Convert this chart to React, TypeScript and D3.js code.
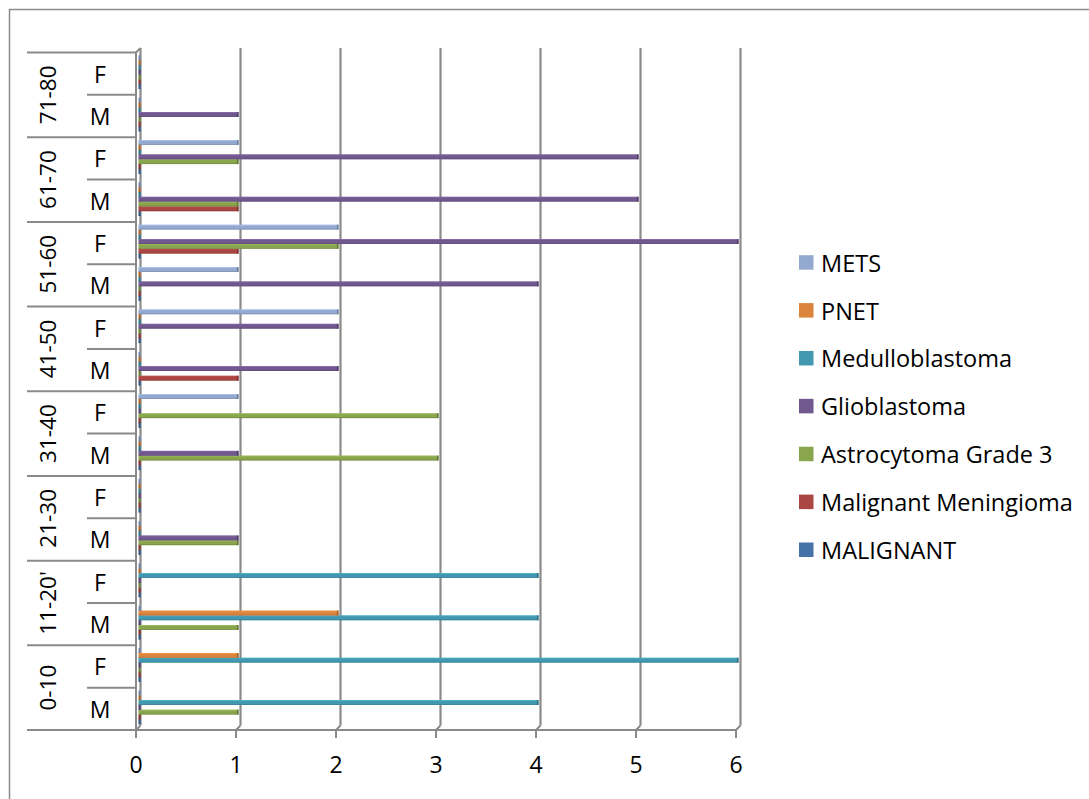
import React from "react";
import * as d3 from "d3";

const ageGroups = ["0-10", "11-20'", "21-30", "31-40", "41-50", "51-60", "61-70", "71-80"];
const sexes = ["M", "F"];
const categories = ageGroups.flatMap((a) => sexes.map((s) => `${a}|${s}`));

const seriesNames = [
  "MALIGNANT",
  "Malignant Meningioma",
  "Astrocytoma Grade 3",
  "Glioblastoma",
  "Medulloblastoma",
  "PNET",
  "METS",
];
const seriesColors = ["#4572A7", "#AA4643", "#89A54E", "#71588F", "#4198AF", "#DB843D", "#93A9CF"];

// values in category order: 0-10 M, 0-10 F, 11-20' M, 11-20' F, ... 71-80 F
const malignant = [0, 0, 0, 0, 0, 0, 0, 0, 0, 0, 0, 0, 0, 0, 0, 0];
const meningioma = [0, 0, 0, 0, 0, 0, 0, 0, 1, 0, 0, 1, 1, 0, 0, 0];
const astrocytoma = [1, 0, 1, 0, 1, 0, 3, 3, 0, 0, 0, 2, 1, 1, 0, 0];
const glioblastoma = [0, 0, 0, 0, 1, 0, 1, 0, 2, 2, 4, 6, 5, 5, 1, 0];
const medulloblastoma = [4, 6, 4, 4, 0, 0, 0, 0, 0, 0, 0, 0, 0, 0, 0, 0];
const pnet = [0, 1, 2, 0, 0, 0, 0, 0, 0, 0, 0, 0, 0, 0, 0, 0];
const mets = [0, 0, 0, 0, 0, 0, 0, 1, 0, 2, 1, 2, 0, 1, 0, 0];
const seriesValues = [malignant, meningioma, astrocytoma, glioblastoma, medulloblastoma, pnet, mets];

const xTicks = [0, 1, 2, 3, 4, 5, 6];

const FONT = "'Open Sans', sans-serif";
const GRID = "#8a8a8a";

export default function App() {
  const W = 1089;
  const H = 799;
  const plotTop = 52.5;
  const plotBottom = 730;
  const depth = 4.5;

  // front (floor) x scale and back-wall x scale for the 3D look
  const xFront = d3.scaleLinear().domain([0, 6]).range([136, 736]);
  const xBack = d3.scaleLinear().domain([0, 6]).range([140.5, 740.5]);
  const xBar = d3.scaleLinear().domain([0, 6]).range([138.5, 738.5]);

  const yCat = d3.scaleBand<string>().domain(categories).range([plotBottom, plotTop]).paddingInner(0).paddingOuter(0);
  const bw = yCat.bandwidth();
  const yGroupInner = d3
    .scaleBand<string>()
    .domain(seriesNames.slice().reverse())
    .range([bw * 0.5 - 3.5 * 4.8 - 1.5, bw * 0.5 + 3.5 * 4.8 - 1.5]);
  const barH = 4.8;

  const groupBoundaries = d3.range(ageGroups.length + 1).map((i) => plotBottom - i * 2 * bw);
  const subBoundaries = ageGroups.map((_, i) => plotBottom - (i * 2 + 1) * bw);

  const legendY = d3.scalePoint<string>().domain(seriesNames.slice().reverse()).range([262.7, 550]);

  return (
    <svg
      width={W}
      height={H}
      style={{ position: "absolute", left: 0, top: 0, background: "#fff" }}
      fontFamily={FONT}
    >
      <rect x={9.5} y={9.5} width={W + 20} height={H + 20} fill="#fff" stroke="#8c8c8c" strokeWidth={1.5} />

      {/* gridlines on back wall */}
      {xTicks.map((t) => (
        <g key={"g" + t}>
          <line x1={xBack(t)} x2={xBack(t)} y1={plotTop - depth} y2={plotBottom - depth} stroke={GRID} strokeWidth={2.2} />
          <line
            x1={xBack(t)}
            x2={xFront(t)}
            y1={plotBottom - depth}
            y2={plotBottom}
            stroke={GRID}
            strokeWidth={2}
          />
          <line x1={xFront(t)} x2={xFront(t)} y1={plotBottom} y2={plotBottom + 8} stroke={GRID} strokeWidth={2} />
          <text
            x={xFront(t)}
            y={plotBottom + 43}
            textAnchor="middle"
            fontSize={23}
            fill="#000"
          >
            {t}
          </text>
        </g>
      ))}
      {/* floor line */}
      <line x1={xFront(0)} x2={xFront(6)} y1={plotBottom} y2={plotBottom} stroke={GRID} strokeWidth={2} />

      {/* category axis */}
      <line x1={136} x2={136} y1={plotTop} y2={plotBottom} stroke={GRID} strokeWidth={2} />
      <line x1={136} x2={xBack(0)} y1={plotTop} y2={plotTop - depth} stroke={GRID} strokeWidth={2} />
      {groupBoundaries.map((y, i) => (
        <line key={"gb" + i} x1={27} x2={136} y1={y} y2={y} stroke={GRID} strokeWidth={2} />
      ))}
      {subBoundaries.map((y, i) => (
        <line key={"sb" + i} x1={87} x2={136} y1={y} y2={y} stroke={GRID} strokeWidth={2} />
      ))}

      {/* bars */}
      {seriesNames.map((name, si) => (
        <g key={name}>
          {categories.map((c, ci) => {
            const v = seriesValues[si][ci];
            const y = (yCat(c) as number) + (yGroupInner(name) as number) + (yGroupInner.bandwidth() - barH) / 2;
            const x0 = xBar(0);
            const x1 = Math.max(xBar(v), x0 + 2);
            const col = seriesColors[si];
            const dark = d3.color(col)!.darker(0.8).formatHex();
            const light = d3.color(col)!.brighter(0.5).formatHex();
            return (
              <g key={c}>
                <rect x={x0} y={y} width={x1 - x0} height={barH} fill={col} />
                <rect x={x0} y={y} width={x1 - x0} height={0.9} fill={light} opacity={0.7} />
                <rect x={x0} y={y + barH - 0.8} width={x1 - x0} height={0.8} fill={dark} opacity={0.6} />
                <rect x={x1 - 1.6} y={y} width={1.6} height={barH} fill={dark} />
              </g>
            );
          })}
        </g>
      ))}

      {/* category labels */}
      {categories.map((c) => {
        const [, s] = c.split("|");
        const yc = (yCat(c) as number) + bw / 2;
        return (
          <text key={"l" + c} x={100} y={yc} textAnchor="middle" dominantBaseline="central" fontSize={23} fill="#000">
            {s}
          </text>
        );
      })}
      {ageGroups.map((a, i) => {
        const yc = plotBottom - (i * 2 + 1) * bw;
        return (
          <text
            key={"a" + a}
            transform={`translate(47,${yc}) rotate(-90)`}
            textAnchor="middle"
            dominantBaseline="central"
            fontSize={22.5}
            fill="#000"
          >
            {a}
          </text>
        );
      })}

      {/* legend */}
      {seriesNames.map((name, si) => {
        const y = legendY(name) as number;
        return (
          <g key={"lg" + name}>
            <rect x={799} y={y - 7.5} width={14.5} height={14.5} fill={seriesColors[si]} />
            <text x={821} y={y} dominantBaseline="central" fontSize={23.5} fill="#000">
              {name}
            </text>
          </g>
        );
      })}
    </svg>
  );
}
